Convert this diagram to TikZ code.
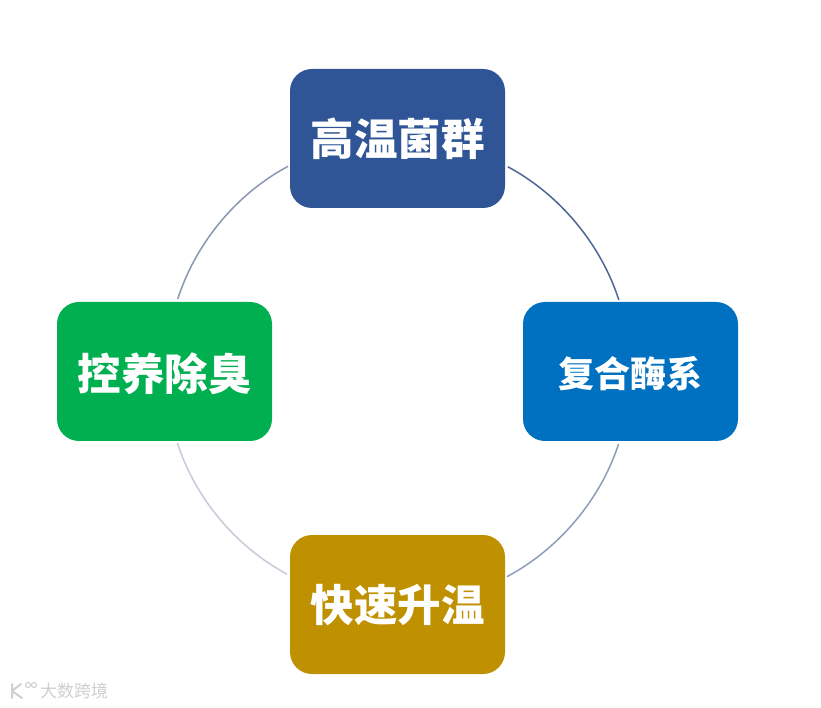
\documentclass[tikz,border=0pt]{standalone}
\usepackage{fontspec}
\setmainfont{Noto Sans CJK SC}[BoldFont={Noto Sans CJK SC Black}]
\definecolor{cardtop}{HTML}{2F5597}
\definecolor{cardright}{HTML}{0070C0}
\definecolor{cardleft}{HTML}{00B050}
\definecolor{cardbottom}{HTML}{BF9000}
\definecolor{ringa}{HTML}{4F6796}
\definecolor{ringb}{HTML}{8F9DBB}
\definecolor{ringc}{HTML}{C5CBD9}
\definecolor{ringd}{HTML}{8A97B3}
\definecolor{wmgrey}{HTML}{CFCFCF}
\begin{document}
\begin{tikzpicture}[x=1pt,y=1pt,
  card/.style={rounded corners=22pt,minimum width=215pt,minimum height=139pt,inner sep=0pt,text=white,font=\fontsize{43.5pt}{50pt}\selectfont\bfseries},
  smallcard/.style={card,font=\fontsize{36pt}{42pt}\selectfont\bfseries},
  ring/.style={line width=1.5pt,shorten <=3pt,shorten >=2pt,looseness=0.883},
  wm/.style={text=wmgrey,font=\fontsize{17pt}{20pt}\selectfont,inner sep=0pt}]
\useasboundingbox (0,0) rectangle (821,707);
\fill[white] (0,0) rectangle (821,707);
\node[card,fill=cardtop] (top) at (397.5,568.5) {高温菌群};
\node[smallcard,fill=cardright] (right) at (630.5,335.5) {\raisebox{-2pt}[\height][\depth]{复合酶系}};
\node[card,fill=cardbottom] (bottom) at (397.5,102.5) {\raisebox{-1pt}[\height][\depth]{快速升温}};
\node[card,fill=cardleft] (left) at (164.5,335.5) {\raisebox{-2pt}[\height][\depth]{控养除臭}};
\draw[ring,ringa] (top.-14.8) to[out=-28.2,in=108] (right.99.4);
\draw[ring,ringb] (right.-99.4) to[out=-108,in=28.2] (bottom.14.8);
\draw[ring,ringc] (bottom.165.2) to[out=151.8,in=-72] (left.-80.6);
\draw[ring,ringd] (left.80.6) to[out=72,in=208.2] (top.194.8);
\node[wm] (wmtext) at (74,16) {大数跨境};
\draw[wmgrey,line width=2pt,line cap=round,line join=round] (12,23) -- (12,9) (12,16) -- (21,23) (12,16) -- (22,9);
\draw[wmgrey,line width=1pt] (28,22) circle (2.6) (34,22) circle (2.6);
\end{tikzpicture}
\end{document}
